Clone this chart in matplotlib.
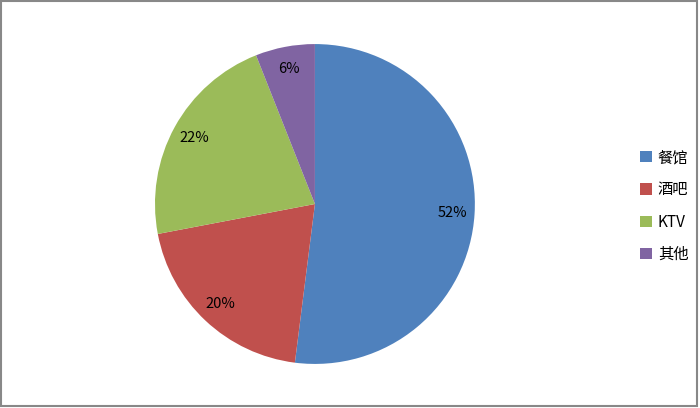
import matplotlib.pyplot as plt
from matplotlib.patches import Rectangle

plt.rcParams['font.family'] = ['Noto Sans CJK SC', 'DejaVu Sans']

labels = ["餐馆", "酒吧", "KTV", "其他"]
values = [52, 20, 22, 6]
colors = ["#4F81BD", "#C0504D", "#9BBB59", "#8064A2"]

fig = plt.figure(figsize=(7, 4.08), dpi=100)
ax = fig.add_axes([0.2214, 0.108, 0.457, 0.784])

wedges, texts = ax.pie(values, colors=colors, startangle=90, counterclock=False,
                       labels=[f"{v}%" for v in values], labeldistance=0.86,
                       textprops={"fontsize": 10.5, "ha": "center", "va": "center"})
ax.set_aspect("equal")
ax.set_xlim(-1, 1)
ax.set_ylim(-1, 1)

fig.legend(wedges, labels, loc="center left", bbox_to_anchor=(0.895, 0.495),
           frameon=False, fontsize=11, handlelength=0.75, handleheight=0.75,
           handletextpad=0.4, labelspacing=1.0)

fig.patches.append(Rectangle((0.002, 0.004), 0.994, 0.993, transform=fig.transFigure,
                             fill=False, edgecolor="#888888", linewidth=1.5))

fig.savefig("out.png", dpi=100)
